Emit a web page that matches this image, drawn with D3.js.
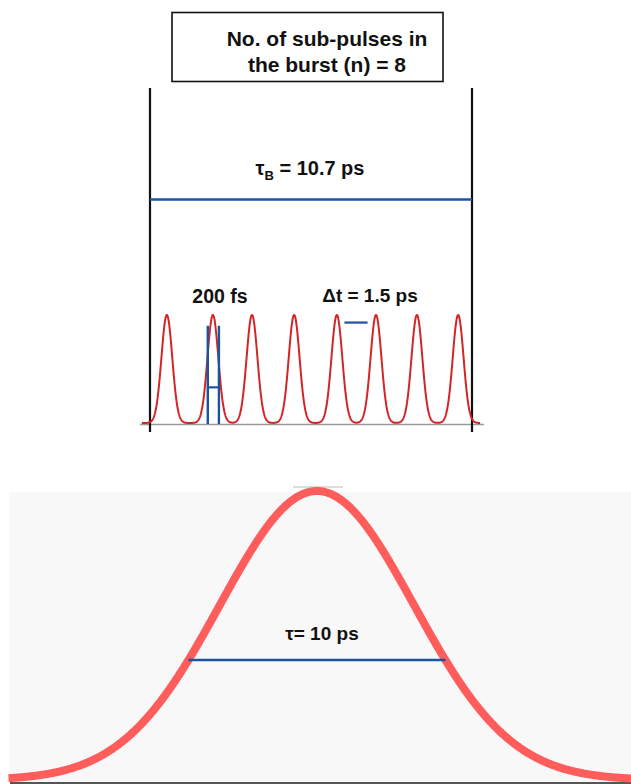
<!DOCTYPE html>
<html><head><meta charset="utf-8">
<script src="https://cdn.jsdelivr.net/npm/d3@7"></script>
<style>
body{margin:0;background:#fff}
svg{display:block}
text{font-family:"Liberation Sans",Arial,sans-serif;font-weight:bold;fill:#111}
</style>
</head><body><svg id="c" width="631" height="784"></svg>
<script>
// ---- data ----
const titleLines = ["No. of sub-pulses in", "the burst (n) = 8"];
const burstWindow = [0, 10.7];                       // ps, tau_B
const burstLabel = ["τ", "B", " = 10.7 ps"];
const subPulseCenters = [0.56, 2.09, 3.39, 4.79, 6.21, 7.51, 8.87, 10.24]; // ps
const subPulseAmplitude = [1, 1, 1, 1, 1, 1, 1, 1];
const subPulseSigma = 0.18;                          // ps (schematic width)
const subPulseSpan = [-0.27, 10.97];                 // ps, extent of drawn trace
const widthMarkerX = [1.92, 2.29];                   // ps, "200 fs" bracket
const widthMarkerLevels = [0.90, 0.33];              // top of bars, crossbar level
const widthLabel = "200 fs";
const spacingMarkerX = [6.46, 7.23];                 // ps, "Δt" dash
const spacingMarkerLevel = 0.93;
const spacingLabel = "Δt = 1.5 ps";

const longPulseSigma = 3.77;                         // ps
const longPulseSpan = [-12.0, 12.22];                // ps
const tauBarX = [-5, 5];                             // ps
const tauLabel = "τ= 10 ps";

// ---- drawing ----
const svg = d3.select("#c");
const gaussSum = (t, centers, amps, s) =>
  d3.sum(centers, (c, i) => amps[i] * Math.exp(-((t - c) ** 2) / (2 * s * s)));

// Title box
svg.append("rect").attr("x", 172).attr("y", 12.5).attr("width", 271).attr("height", 69)
  .attr("fill", "#fff").attr("stroke", "#111").attr("stroke-width", 1.6);
svg.selectAll("text.title").data(titleLines).join("text").attr("class", "title")
  .attr("x", 327).attr("y", (d, i) => 46 + i * 26)
  .attr("text-anchor", "middle").attr("font-size", 21).text(d => d);

// Top panel scales
const xT = d3.scaleLinear().domain(burstWindow).range([150, 472]);
const yT = d3.scaleLinear().domain([0, 1]).range([423, 315]);

// baseline
svg.append("line").attr("x1", 140).attr("x2", 484).attr("y1", 424.5).attr("y2", 424.5)
  .attr("stroke", "#9a9a9a").attr("stroke-width", 1.5);

// burst window bars
svg.selectAll("line.win").data(burstWindow).join("line").attr("class", "win")
  .attr("x1", d => xT(d)).attr("x2", d => xT(d)).attr("y1", 88).attr("y2", 432)
  .attr("stroke", "#111").attr("stroke-width", 2.2);

// tau_B line
svg.append("line").attr("x1", xT(burstWindow[0])).attr("x2", xT(burstWindow[1]))
  .attr("y1", 199.5).attr("y2", 199.5).attr("stroke", "#1b54a0").attr("stroke-width", 2.6);
const tb = svg.append("text").attr("x", 310).attr("y", 175).attr("text-anchor", "middle").attr("font-size", 20);
tb.append("tspan").text(burstLabel[0]);
tb.append("tspan").attr("font-size", 13).attr("dy", 5).text(burstLabel[1]);
tb.append("tspan").attr("dy", -5).text(burstLabel[2]);

// sub-pulse trace
const tSamples = d3.range(0, 1201).map(i => subPulseSpan[0] + (subPulseSpan[1] - subPulseSpan[0]) * i / 1200);
svg.append("path")
  .datum(tSamples)
  .attr("d", d3.line().x(t => xT(t)).y(t => yT(gaussSum(t, subPulseCenters, subPulseAmplitude, subPulseSigma))))
  .attr("fill", "none").attr("stroke", "#d42526").attr("stroke-width", 2);

// 200 fs marker
svg.selectAll("line.wm").data(widthMarkerX).join("line").attr("class", "wm")
  .attr("x1", d => xT(d)).attr("x2", d => xT(d)).attr("y1", yT(widthMarkerLevels[0])).attr("y2", yT(0) + 1)
  .attr("stroke", "#1b54a0").attr("stroke-width", 2.4);
svg.append("line").attr("x1", xT(widthMarkerX[0])).attr("x2", xT(widthMarkerX[1]))
  .attr("y1", yT(widthMarkerLevels[1])).attr("y2", yT(widthMarkerLevels[1]))
  .attr("stroke", "#1b54a0").attr("stroke-width", 2.2);
svg.append("text").attr("x", 220).attr("y", 303).attr("text-anchor", "middle").attr("font-size", 19.5).text(widthLabel);

// Δt marker
svg.append("line").attr("x1", xT(spacingMarkerX[0])).attr("x2", xT(spacingMarkerX[1]))
  .attr("y1", yT(spacingMarkerLevel)).attr("y2", yT(spacingMarkerLevel))
  .attr("stroke", "#1b54a0").attr("stroke-width", 2.2);
svg.append("text").attr("x", 370).attr("y", 302).attr("text-anchor", "middle").attr("font-size", 19).text(spacingLabel);

// Bottom panel
const xB = d3.scaleLinear().domain([-12.33, 12.22]).range([0, 631]);
const yB = d3.scaleLinear().domain([0, 1]).range([780, 491]);
svg.append("rect").attr("x", 9).attr("y", 492).attr("width", 622).attr("height", 290).attr("fill", "#f8f8f8");
svg.append("line").attr("x1", 10).attr("x2", 631).attr("y1", 783).attr("y2", 783)
  .attr("stroke", "#555").attr("stroke-width", 2);
svg.append("line").attr("x1", 293).attr("x2", 343).attr("y1", 487).attr("y2", 487)
  .attr("stroke", "#bbb").attr("stroke-width", 1);

const tLong = d3.range(0, 801).map(i => longPulseSpan[0] + (longPulseSpan[1] - longPulseSpan[0]) * i / 800);
svg.append("path").datum(tLong)
  .attr("d", d3.line().x(t => xB(t)).y(t => yB(gaussSum(t, [0], [1], longPulseSigma))))
  .attr("fill", "none").attr("stroke", "#ff5c5c").attr("stroke-width", 8);

const tauLevel = gaussSum(tauBarX[1], [0], [1], longPulseSigma);
svg.append("line").attr("x1", xB(tauBarX[0])).attr("x2", xB(tauBarX[1]))
  .attr("y1", yB(tauLevel)).attr("y2", yB(tauLevel))
  .attr("stroke", "#1b54a0").attr("stroke-width", 2.6);
svg.append("text").attr("x", 322).attr("y", 640).attr("text-anchor", "middle").attr("font-size", 19).text(tauLabel);
</script></body></html>
